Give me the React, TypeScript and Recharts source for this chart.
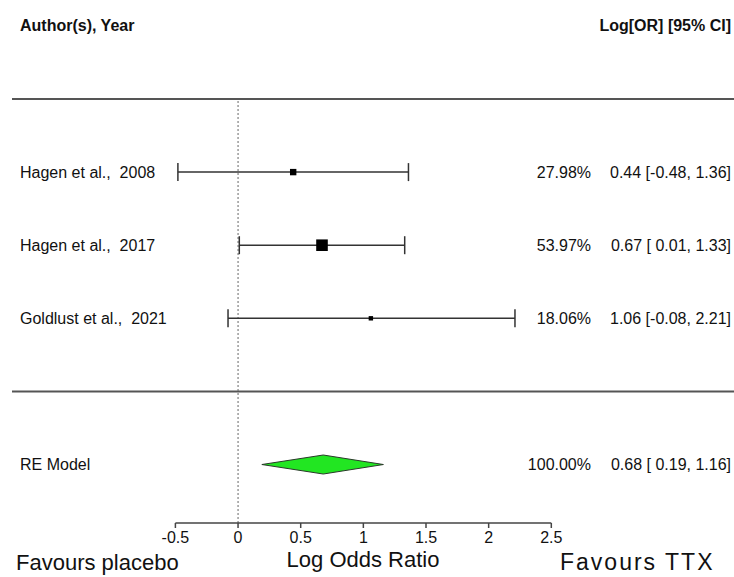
import React from 'react';
import {
  ComposedChart,
  XAxis,
  YAxis,
  Scatter,
  ErrorBar,
  Area,
  ReferenceLine,
} from 'recharts';

// study rows, top to bottom
const studyNames = ['Hagen et al.,  2008', 'Hagen et al.,  2017', 'Goldlust et al.,  2021'];
const studyRows = [3, 2, 1];
const estimates = [0.44, 0.67, 1.06];
const lowerCI = [-0.48, 0.01, -0.08];
const upperCI = [1.36, 1.33, 2.21];
const weights = [27.98, 53.97, 18.06];

// random-effects summary
const summaryLabel = 'RE Model';
const summaryRow = -1;
const summaryEst = 0.68;
const summaryLower = 0.19;
const summaryUpper = 1.16;
const summaryWeight = 100;

const xTicks = [-0.5, 0, 0.5, 1, 1.5, 2, 2.5];

const FONT = '"Liberation Sans", Arial, sans-serif';
const DIAMOND_HALF = 0.13; // half height of the diamond in row units

// keep runs of spaces visible in svg text
const keepSpaces = (s: string) => s.replace(/ {2}/g, ' \u00a0');

const fmtLow = (v: number) => (v < 0 ? v.toFixed(2) : '\u00a0' + v.toFixed(2));
const ciText = (est: number, lo: number, hi: number) =>
  `${est.toFixed(2)} [${fmtLow(lo)}, ${hi.toFixed(2)}]`;

const studies = studyNames.map((name, i) => ({
  name: keepSpaces(name),
  x: estimates[i],
  y: studyRows[i],
  err: [estimates[i] - lowerCI[i], upperCI[i] - estimates[i]],
  weight: weights[i],
  ci: ciText(estimates[i], lowerCI[i], upperCI[i]),
}));

const summary = [
  {
    name: summaryLabel,
    x: summaryEst,
    y: summaryRow,
    weight: summaryWeight,
    ci: ciText(summaryEst, summaryLower, summaryUpper),
  },
];

// polygon for the summary diamond, drawn as a range area
const diamond = [
  { x: summaryLower, band: [summaryRow, summaryRow] },
  { x: summaryEst, band: [summaryRow - DIAMOND_HALF, summaryRow + DIAMOND_HALF] },
  { x: summaryUpper, band: [summaryRow, summaryRow] },
];

const rowText = (cy: number, p: any) => (
  <g fontFamily={FONT} fontSize={16} fill="#111">
    <text x={20} y={cy} dy="0.35em">
      {p.name}
    </text>
    <text x={591} y={cy} dy="0.35em" textAnchor="end">
      {p.weight.toFixed(2) + '%'}
    </text>
    <text x={731} y={cy} dy="0.35em" textAnchor="end">
      {p.ci}
    </text>
  </g>
);

const StudyShape = (props: any) => {
  const { cx, cy, payload } = props;
  const side = 0.2 * payload.weight + 0.8;
  return (
    <g>
      <rect x={cx - side / 2} y={cy - side / 2} width={side} height={side} fill="#000" />
      {rowText(cy, payload)}
    </g>
  );
};

const SummaryShape = (props: any) => {
  const { cy, payload } = props;
  return <g>{rowText(cy, payload)}</g>;
};

const textStyle: React.CSSProperties = {
  position: 'absolute',
  fontFamily: FONT,
  color: '#111',
  whiteSpace: 'pre',
  lineHeight: 1,
};

export default function App() {
  return (
    <div style={{ position: 'absolute', left: 0, top: 0, width: 734, height: 577, background: '#fff' }}>
      <ComposedChart
        width={734}
        height={577}
        data={diamond}
        margin={{ top: 99, right: 0, bottom: 0, left: 12 }}
      >
        <XAxis
          type="number"
          dataKey="x"
          domain={[-1.804, 3.958]}
          allowDataOverflow
          ticks={xTicks}
          interval={0}
          axisLine={false}
          tickLine={{ stroke: '#444', strokeWidth: 1.5 }}
          tickSize={5}
          tickMargin={4}
          height={54}
          tick={{ fontSize: 16, fill: '#111', fontFamily: FONT }}
        />
        <YAxis type="number" dataKey="y" domain={[-1.8, 4]} allowDataOverflow hide />
        <ReferenceLine y={4} stroke="#555" strokeWidth={2} />
        <ReferenceLine y={0} stroke="#555" strokeWidth={2} />
        <ReferenceLine x={0} stroke="#666" strokeDasharray="2 2" strokeWidth={1} />
        <ReferenceLine
          segment={[
            { x: -0.5, y: -1.8 },
            { x: 2.5, y: -1.8 },
          ]}
          stroke="#444"
          strokeWidth={1.5}
        />
        <Area
          dataKey="band"
          type="linear"
          fill="#22e622"
          fillOpacity={1}
          stroke="#2a3a2a"
          strokeWidth={1}
          dot={false}
          activeDot={false}
          isAnimationActive={false}
        />
        <Scatter data={studies} shape={StudyShape} isAnimationActive={false}>
          <ErrorBar dataKey="err" direction="x" width={9} stroke="#333" strokeWidth={1.5} />
        </Scatter>
        <Scatter data={summary} shape={SummaryShape} isAnimationActive={false} />
      </ComposedChart>
      <div style={{ ...textStyle, left: 20, top: 18, fontSize: 16, fontWeight: 'bold' }}>
        Author(s), Year
      </div>
      <div style={{ ...textStyle, right: 3, top: 18, fontSize: 16, fontWeight: 'bold' }}>
        Log[OR] [95% CI]
      </div>
      <div style={{ ...textStyle, left: 16, top: 552, fontSize: 22 }}>Favours placebo</div>
      <div style={{ ...textStyle, left: 363, top: 549, fontSize: 22, transform: 'translateX(-50%)' }}>
        Log Odds Ratio
      </div>
      <div style={{ ...textStyle, left: 560, top: 551, fontSize: 23, letterSpacing: 2 }}>
        Favours TTX
      </div>
    </div>
  );
}
